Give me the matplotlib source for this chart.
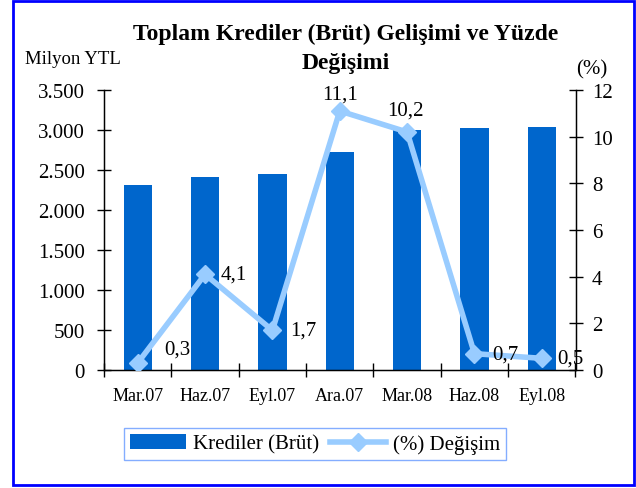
import matplotlib
matplotlib.use("Agg")
import matplotlib.pyplot as plt
from matplotlib.patches import Rectangle
from matplotlib.ticker import FuncFormatter, FixedLocator, NullFormatter

plt.rcParams['font.family'] = ['Liberation Serif', 'DejaVu Serif']

categories = ["Mar.07", "Haz.07", "Eyl.07", "Ara.07", "Mar.08", "Haz.08", "Eyl.08"]
krediler = [2312, 2412, 2450, 2725, 3000, 3025, 3037]
degisim = [0.3, 4.1, 1.7, 11.1, 10.2, 0.7, 0.5]
degisim_labels = ["0,3", "4,1", "1,7", "11,1", "10,2", "0,7", "0,5"]
left_ticks = [0, 500, 1000, 1500, 2000, 2500, 3000, 3500]
right_ticks = [0, 2, 4, 6, 8, 10, 12]

# label placement (style): offsets in points and alignment
label_style = [
    (19, 10, 'left'), (11.5, 0, 'left'), (13, 0, 'left'), (0, 12, 'center'),
    (-1, 16, 'center'), (13, 0, 'left'), (11, 0, 'left'),
]

BAR = '#0066CC'
LINE = '#99CCFF'

fig = plt.figure(figsize=(6.36, 4.89), dpi=100)
ax = fig.add_axes([104/636, 1-371/489, (575.5-104)/636, (371-91)/489])
x = list(range(len(categories)))
ax.bar(x, krediler, width=0.42, color=BAR, label='Krediler (Brüt)', zorder=2)
ax.set_xlim(-0.5, len(categories)-0.5)
ax.set_ylim(0, 3500)
ax.yaxis.set_major_locator(FixedLocator(left_ticks))
ax.yaxis.set_major_formatter(FuncFormatter(lambda v, p: f"{int(v):,}".replace(",", ".")))
ax.xaxis.set_major_locator(FixedLocator([i - 0.5 for i in range(len(categories)+1)]))
ax.xaxis.set_major_formatter(NullFormatter())
ax.xaxis.set_minor_locator(FixedLocator(x))
ax.set_xticklabels(categories, minor=True)
ax.tick_params(axis='x', which='minor', length=0, labelsize=13, pad=12)
ax.tick_params(axis='x', which='major', direction='inout', length=9.5, width=1)
ax.tick_params(axis='y', direction='inout', length=9.5, width=1, labelsize=15, pad=9)
ax.spines['top'].set_visible(False)
for s in ['left', 'right', 'bottom']:
    ax.spines[s].set_linewidth(1)

ax2 = ax.twinx()
ax2.set_ylim(0, 12)
ax2.yaxis.set_major_locator(FixedLocator(right_ticks))
ax2.tick_params(axis='y', direction='inout', length=9.5, width=1, labelsize=15, pad=7)
ax2.spines['top'].set_visible(False)
ln, = ax2.plot(x, degisim, color=LINE, linewidth=4, marker='D', markersize=9,
               markeredgecolor=LINE, markerfacecolor=LINE, label='(%) Değişim', zorder=3)
for xi, yi, lab, (dx, dy, ha) in zip(x, degisim, degisim_labels, label_style):
    ax2.annotate(lab, (xi, yi), xytext=(dx, dy), textcoords='offset points',
                 ha=ha, va='center', fontsize=15, annotation_clip=False)

fig.text(346/636, 1-34/489, "Toplam Krediler (Brüt) Gelişimi ve Yüzde", ha='center', va='center',
         fontsize=17, fontweight='bold')
fig.text(346/636, 1-63/489, "Değişimi", ha='center', va='center', fontsize=17, fontweight='bold')
fig.text(73/636, 1-60/489, "Milyon YTL", ha='center', va='center', fontsize=13.5)
fig.text(592/636, 1-70/489, "(%)", ha='center', va='center', fontsize=15)

h1, l1 = ax.get_legend_handles_labels()
leg = fig.legend([h1[0], ln], [l1[0], '(%) Değişim'], loc='center',
                 bbox_to_anchor=(315/636, 1-445/489), ncol=2, frameon=True, fancybox=False,
                 fontsize=15, handlelength=2.7, columnspacing=0.55, handletextpad=0.3,
                 borderpad=0.3, borderaxespad=0)
leg.get_frame().set_edgecolor('#6699FF')
leg.get_frame().set_linewidth(1)

border = Rectangle((13/636, 1-486/489), (634-13)/636, (486-2)/489, transform=fig.transFigure,
                   fill=False, edgecolor='#0000FF', linewidth=2)
fig.patches.append(border)

fig.savefig('out.png', dpi=100)
